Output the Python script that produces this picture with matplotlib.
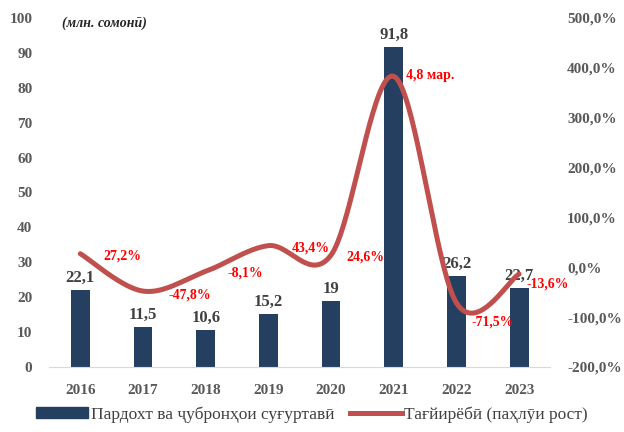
import numpy as np
import matplotlib
matplotlib.use("Agg")
import matplotlib.pyplot as plt
from matplotlib.lines import Line2D
from matplotlib.patches import Patch

plt.rcParams['font.family'] = ['Liberation Serif', 'DejaVu Serif']

# ---------------------------------------------------------------------------
# Data
# ---------------------------------------------------------------------------
years = ['2016', '2017', '2018', '2019', '2020', '2021', '2022', '2023']
payments = [22.1, 11.5, 10.6, 15.2, 19.0, 91.8, 26.2, 22.7]
payment_labels = ['22,1', '11,5', '10,6', '15,2', '19', '91,8', '26,2', '22,7']
growth = [27.2, -47.8, -8.1, 43.4, 24.6, 383.0, -71.5, -13.6]
growth_labels = ['27,2%', '-47,8%', '-8,1%', '43,4%', '24,6%', '4,8 мар.', '-71,5%', '-13,6%']

BAR_COLOR = '#243F60'
LINE_COLOR = '#C0504D'
TICK_COLOR = '#595959'


def excel_smooth(x, y, n=40):
    """Catmull-Rom style bezier smoothing, similar to Excel smoothed lines."""
    x = np.asarray(x, float)
    y = np.asarray(y, float)
    px = np.concatenate([[x[0]], x, [x[-1]]])
    py = np.concatenate([[y[0]], y, [y[-1]]])
    xs, ys = [], []
    t = np.linspace(0, 1, n)
    for i in range(1, len(px) - 2):
        p0 = np.array([px[i], py[i]])
        p3 = np.array([px[i + 1], py[i + 1]])
        p1 = p0 + (np.array([px[i + 1], py[i + 1]]) - np.array([px[i - 1], py[i - 1]])) / 6
        p2 = p3 - (np.array([px[i + 2], py[i + 2]]) - np.array([px[i], py[i]])) / 6
        b = ((1 - t) ** 3)[:, None] * p0 + (3 * (1 - t) ** 2 * t)[:, None] * p1 \
            + (3 * (1 - t) * t ** 2)[:, None] * p2 + (t ** 3)[:, None] * p3
        xs.append(b[:, 0])
        ys.append(b[:, 1])
    return np.concatenate(xs), np.concatenate(ys)


fig = plt.figure(figsize=(6.24, 4.32), dpi=100)
ax = fig.add_axes([0.0785, 0.1505, 0.8037, 0.8078])
ax2 = ax.twinx()

x = np.arange(len(years))
ax.bar(x, payments, width=0.30, color=BAR_COLOR, zorder=2)
for xi, v, lab in zip(x, payments, payment_labels):
    ax.annotate(lab, (xi, v), xytext=(0, 3), textcoords='offset points',
                ha='center', va='bottom', fontsize=12, fontweight='bold',
                color='#404040')

ax.set_xlim(-0.5, len(years) - 0.5)
ax.set_ylim(0, 100)
ax.set_yticks(np.arange(0, 101, 10))
ax.set_xticks(x)
ax.set_xticklabels(years)

sx, sy = excel_smooth(x, growth)
ax2.plot(sx, sy, color=LINE_COLOR, lw=3.6, solid_capstyle='round', zorder=3)
ax2.set_ylim(-200, 500)
ax2.set_yticks(np.arange(-200, 501, 100))
ax2.set_yticklabels([f'{v:.1f}%'.replace('.', ',') for v in np.arange(-200, 501, 100)])

# label offsets (points) to the right of each point
offsets = [(16.5, -1.5), (18, -3), (16, -1.5), (16.5, -2), (11, -1.5),
           (8.5, 0.5), (11, -14), (5.5, -7)]
for xi, v, lab, off in zip(x, growth, growth_labels, offsets):
    ax2.annotate(lab, (xi, v), xytext=off, textcoords='offset points',
                 ha='left', va='center', fontsize=10, fontweight='bold',
                 color='#FF0000', zorder=5)

for a in (ax, ax2):
    for s in ('top', 'left', 'right', 'bottom'):
        a.spines[s].set_visible(False)
ax.spines['bottom'].set_visible(True)
ax.spines['bottom'].set_color('#D9D9D9')

ax.tick_params(axis='y', length=0, pad=12, labelsize=11, labelcolor=TICK_COLOR)
ax.tick_params(axis='x', length=0, pad=12, labelsize=11, labelcolor=TICK_COLOR)
ax2.tick_params(axis='y', length=0, pad=12, labelsize=11, labelcolor=TICK_COLOR)
for lab in ax.get_yticklabels() + ax.get_xticklabels() + ax2.get_yticklabels():
    lab.set_fontweight('bold')

fig.text(62 / 624, 1 - 23 / 432, '(млн. сомонӣ)', fontsize=10, fontweight='bold',
         fontstyle='italic', color='#262626', va='center', ha='left')

handles = [Patch(color=BAR_COLOR), Line2D([0], [0], color=LINE_COLOR, lw=3.6)]
fig.legend(handles, ['Пардохт ва ҷубронҳои суғуртавӣ', 'Тағйирёбӣ (паҳлӯи рост)'],
           loc='lower center', bbox_to_anchor=(0.5, -0.015), ncol=2, frameon=False,
           fontsize=12.5, handlelength=3.0, handleheight=0.55, columnspacing=0.9,
           handletextpad=0.15, labelcolor='#404040')

fig.savefig('out.png', dpi=100)
